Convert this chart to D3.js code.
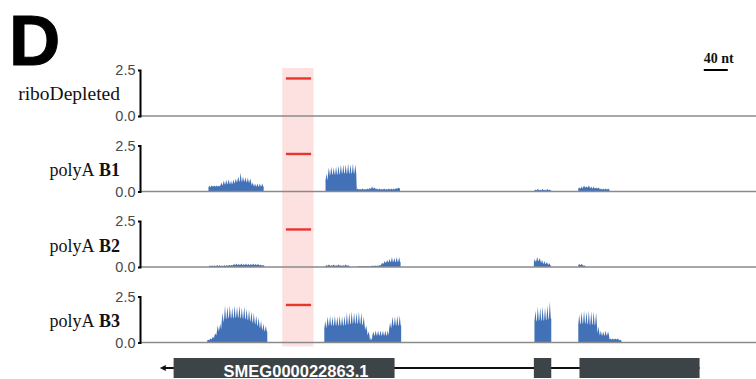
<!DOCTYPE html>
<html>
<head>
<meta charset="utf-8">
<script src="https://cdn.jsdelivr.net/npm/d3@7"></script>
<style>
  html, body { margin: 0; padding: 0; background: #fff; }
  svg { display: block; }
</style>
</head>
<body>
<script>
// ---- Tracks ----
const trackNames = ["riboDepleted", "polyA", "polyA", "polyA"];
const trackSuffix = ["", "B1", "B2", "B3"];
const yTicks = [0, 2.5];
const yMax = 2.5;

// Genomic window (nt) and coverage bin size (nt per periodic step)
const windowNt = [0, 1026];
const binNt = 4;

// Coverage blocks: start position (nt) plus per-bin peak and trough values
const riboStarts = [];
const riboPeaks = [];
const riboBases = [];

const b1Starts = [114, 309, 657, 730];
const b1Peaks = [
  [0.33,0.33,0.33,0.33,0.33,0.49,0.60,0.65,0.65,0.60,0.65,0.71,0.82,1.03,0.82,0.76,0.76,0.71,0.49,0.43,0.43,0.43,0.43],
  [0.98,1.30,1.36,1.30,1.36,1.41,1.47,1.47,1.47,1.52,1.47,1.52,1.47,0.16,0.14,0.16,0.14,0.16,0.19,0.27,0.22,0.16,0.16,0.14,0.16,0.14,0.16,0.16,0.16,0.19,0.22],
  [0.11,0.14,0.11,0.14,0.11,0.14,0.11],
  [0.22,0.27,0.33,0.27,0.33,0.27,0.27,0.22,0.22,0.16,0.16,0.16,0.16]
];
const b1Bases = [
  [0.22,0.27,0.27,0.27,0.27,0.33,0.38,0.38,0.43,0.38,0.43,0.49,0.54,0.54,0.54,0.54,0.49,0.49,0.33,0.27,0.27,0.27,0.27],
  [0.60,0.87,0.92,0.92,0.92,0.92,0.98,0.98,0.98,0.98,0.98,0.98,0.98,0.11,0.11,0.11,0.11,0.11,0.14,0.16,0.16,0.11,0.11,0.11,0.11,0.11,0.11,0.11,0.11,0.14,0.16],
  [0.05,0.08,0.05,0.08,0.05,0.08,0.05],
  [0.16,0.16,0.22,0.22,0.22,0.16,0.16,0.16,0.16,0.11,0.11,0.11,0.11]
];

const b2Starts = [115, 309, 362, 656, 730];
const b2Peaks = [
  [0.08,0.08,0.08,0.11,0.11,0.08,0.11,0.11,0.11,0.11,0.16,0.19,0.16,0.19,0.16,0.19,0.16,0.16,0.19,0.16,0.16,0.14,0.11],
  [0.11,0.14,0.11,0.14,0.11,0.14,0.11,0.11,0.14,0.11],
  [0.05,0.05,0.05,0.05,0.05,0.05,0.08,0.08,0.08,0.11,0.22,0.33,0.38,0.43,0.54,0.49,0.54,0.54],
  [0.43,0.54,0.49,0.38,0.33,0.27,0.22],
  [0.16,0.16,0.11]
];
const b2Bases = [
  [0.05,0.05,0.05,0.05,0.05,0.05,0.05,0.05,0.08,0.08,0.11,0.11,0.11,0.11,0.11,0.11,0.11,0.11,0.11,0.11,0.11,0.08,0.08],
  [0.05,0.08,0.05,0.08,0.05,0.08,0.05,0.05,0.08,0.05],
  [0.03,0.03,0.03,0.03,0.03,0.03,0.05,0.05,0.05,0.08,0.16,0.22,0.24,0.27,0.27,0.27,0.27,0.27],
  [0.27,0.33,0.33,0.22,0.16,0.16,0.11],
  [0.11,0.11,0.05]
];

const b3Starts = [112, 307, 657, 730];
const b3Peaks = [
  [0.16,0.22,0.33,0.49,0.92,1.03,1.63,2.01,1.96,2.01,1.90,2.01,1.96,2.01,1.90,1.96,1.85,1.79,1.68,1.63,1.47,1.36,1.20,1.03,0.92],
  [1.20,1.41,1.47,1.41,1.47,1.41,1.47,1.41,1.47,1.63,1.63,1.68,1.63,1.63,1.68,1.63,1.41,0.92,0.60,0.27,0.60,0.65,0.65,0.65,0.65,0.65,0.65,1.09,1.41,1.41,1.47,1.47],
  [1.74,1.96,1.90,1.96,1.90,2.01,2.23],
  [1.52,1.68,1.74,1.68,1.74,1.68,1.68,1.63,0.87,0.65,0.60,0.65,0.60,0.22,0.22,0.22,0.22,0.16]
];
const b3Bases = [
  [0.11,0.16,0.22,0.38,0.60,0.71,1.09,1.25,1.30,1.36,1.30,1.36,1.36,1.36,1.30,1.30,1.25,1.20,1.14,1.03,0.98,0.87,0.76,0.65,0.60],
  [0.76,0.92,0.92,0.92,0.92,0.92,0.92,0.92,0.92,0.98,0.98,1.03,1.03,1.03,1.03,0.98,0.92,0.65,0.38,0.11,0.38,0.38,0.38,0.38,0.38,0.38,0.38,0.76,0.92,0.92,0.92,0.92],
  [1.14,1.20,1.20,1.20,1.20,1.25,1.30],
  [0.98,1.03,1.03,1.03,0.98,0.98,0.98,0.92,0.49,0.38,0.38,0.38,0.38,0.16,0.16,0.16,0.16,0.11]
];

// Highlighted region and its marker level
const highlightNt = [237, 289];
const markerNt = [243, 285];
const markerLevel = 2.04;

// Gene model
const geneName = "SMEG000022863.1";
const geneSpanNt = [33, 932];
const exonsNt = [[56, 424], [656, 685], [732, 932]];
const geneLabelNt = 260;

// Scale bar
const scaleBarNt = 40;
const scaleBarStartNt = 939;
const scaleBarLabel = "40 nt";

// ---- Layout ----
const W = 756, H = 379;
const plotLeft = 140, plotRight = 756;
const panelTop0 = 70, panelH = 46, panelStep = 75.5;

const coverage = [
  { starts: riboStarts, peaks: riboPeaks, bases: riboBases },
  { starts: b1Starts, peaks: b1Peaks, bases: b1Bases },
  { starts: b2Starts, peaks: b2Peaks, bases: b2Bases },
  { starts: b3Starts, peaks: b3Peaks, bases: b3Bases }
];

const svg = d3.select("body").append("svg")
  .attr("width", W).attr("height", H)
  .attr("viewBox", `0 0 ${W} ${H}`);

const x = d3.scaleLinear().domain(windowNt).range([plotLeft, plotRight]);

// Panel letter
svg.append("text")
  .attr("x", 9).attr("y", 65)
  .attr("font-family", "'Liberation Sans', Arial, sans-serif")
  .attr("font-weight", 700)
  .attr("font-size", 71)
  .attr("fill", "#000")
  .attr("stroke", "#000")
  .attr("stroke-width", 1)
  .text("D");

// Highlight band behind all tracks
const lastBase = panelTop0 + 3 * panelStep + panelH;
svg.append("rect")
  .attr("x", x(highlightNt[0]))
  .attr("y", panelTop0 - 2)
  .attr("width", x(highlightNt[1]) - x(highlightNt[0]))
  .attr("height", lastBase + 4 - (panelTop0 - 2))
  .attr("fill", "#fde1e1");

// Build a coverage outline from per-bin peaks and troughs
function coveragePoints(start, peaks, bases) {
  const pts = [{ nt: start, v: 0 }];
  peaks.forEach((p, i) => {
    const s = start + i * binNt;
    pts.push({ nt: s, v: bases[i] });
    pts.push({ nt: s + 0.4 * binNt, v: p });
    pts.push({ nt: s + 0.8 * binNt, v: bases[i] });
  });
  const end = start + peaks.length * binNt;
  pts.push({ nt: end, v: bases[bases.length - 1] });
  pts.push({ nt: end, v: 0 });
  return pts;
}

trackNames.forEach((name, ti) => {
  const top = panelTop0 + ti * panelStep;
  const y = d3.scaleLinear().domain([0, yMax]).range([top + panelH, top]);
  const g = svg.append("g");

  // coverage
  const area = d3.area()
    .x(d => x(d.nt))
    .y0(y(0))
    .y1(d => y(d.v));
  const cov = coverage[ti];
  cov.starts.forEach((s, bi) => {
    g.append("path")
      .attr("d", area(coveragePoints(s, cov.peaks[bi], cov.bases[bi])))
      .attr("fill", "#4271b7");
  });

  // baseline
  g.append("line")
    .attr("x1", plotLeft).attr("x2", plotRight)
    .attr("y1", y(0)).attr("y2", y(0))
    .attr("stroke", "#8a8a8a").attr("stroke-width", 1.4);

  // marker line in the highlighted region
  g.append("line")
    .attr("x1", x(markerNt[0])).attr("x2", x(markerNt[1]))
    .attr("y1", y(markerLevel)).attr("y2", y(markerLevel))
    .attr("stroke", "#e8352e").attr("stroke-width", 2.4);

  // y axis
  const axis = d3.axisLeft(y)
    .tickValues(yTicks)
    .tickFormat(d3.format(".1f"))
    .tickSize(2)
    .tickSizeOuter(2)
    .tickPadding(2.5);
  const ag = g.append("g")
    .attr("transform", `translate(${plotLeft},0)`)
    .call(axis);
  ag.select(".domain").attr("stroke", "#000").attr("stroke-width", 2);
  ag.selectAll(".tick line").attr("stroke", "#000").attr("stroke-width", 1.2);
  ag.selectAll(".tick text")
    .attr("font-family", "'Liberation Sans', Arial, sans-serif")
    .attr("font-size", 14.5)
    .attr("fill", "#4a4a4a");

  // track label
  const label = g.append("text")
    .attr("x", 120)
    .attr("y", top + panelH / 2 + (ti === 0 ? 6.5 : 7.5))
    .attr("text-anchor", "end")
    .attr("font-family", "'Liberation Serif', 'Times New Roman', serif")
    .attr("font-size", ti === 0 ? 19.5 : 18)
    .attr("fill", "#111");
  label.append("tspan").text(name);
  if (trackSuffix[ti]) {
    label.append("tspan").attr("font-weight", 700).text(" " + trackSuffix[ti]);
  }
});

// Scale bar
svg.append("line")
  .attr("x1", x(scaleBarStartNt)).attr("x2", x(scaleBarStartNt + scaleBarNt))
  .attr("y1", 70).attr("y2", 70)
  .attr("stroke", "#000").attr("stroke-width", 2);
svg.append("text")
  .attr("x", x(scaleBarStartNt))
  .attr("y", 63)
  .attr("font-family", "'Liberation Serif', 'Times New Roman', serif")
  .attr("font-weight", 700)
  .attr("font-size", 14)
  .attr("fill", "#111")
  .text(scaleBarLabel);

// Gene model
const geneY = 368, exonH = 20;
const gg = svg.append("g");
gg.append("line")
  .attr("x1", x(geneSpanNt[0]) + 3).attr("x2", x(geneSpanNt[1]))
  .attr("y1", geneY).attr("y2", geneY)
  .attr("stroke", "#111").attr("stroke-width", 2);
gg.append("path")
  .attr("d", `M${x(geneSpanNt[0])},${geneY} l6,-3 l0,6 Z`)
  .attr("fill", "#111");
gg.selectAll("rect.exon")
  .data(exonsNt)
  .join("rect")
  .attr("class", "exon")
  .attr("x", d => x(d[0]))
  .attr("y", geneY - 10)
  .attr("width", d => x(d[1]) - x(d[0]))
  .attr("height", exonH)
  .attr("fill", "#3d4447");
gg.append("text")
  .attr("x", x(geneLabelNt))
  .attr("y", geneY + 8.5)
  .attr("text-anchor", "middle")
  .attr("font-family", "'Liberation Sans', Arial, sans-serif")
  .attr("font-weight", 700)
  .attr("font-size", 16.5)
  .attr("fill", "#fff")
  .text(geneName);
</script>
</body>
</html>
